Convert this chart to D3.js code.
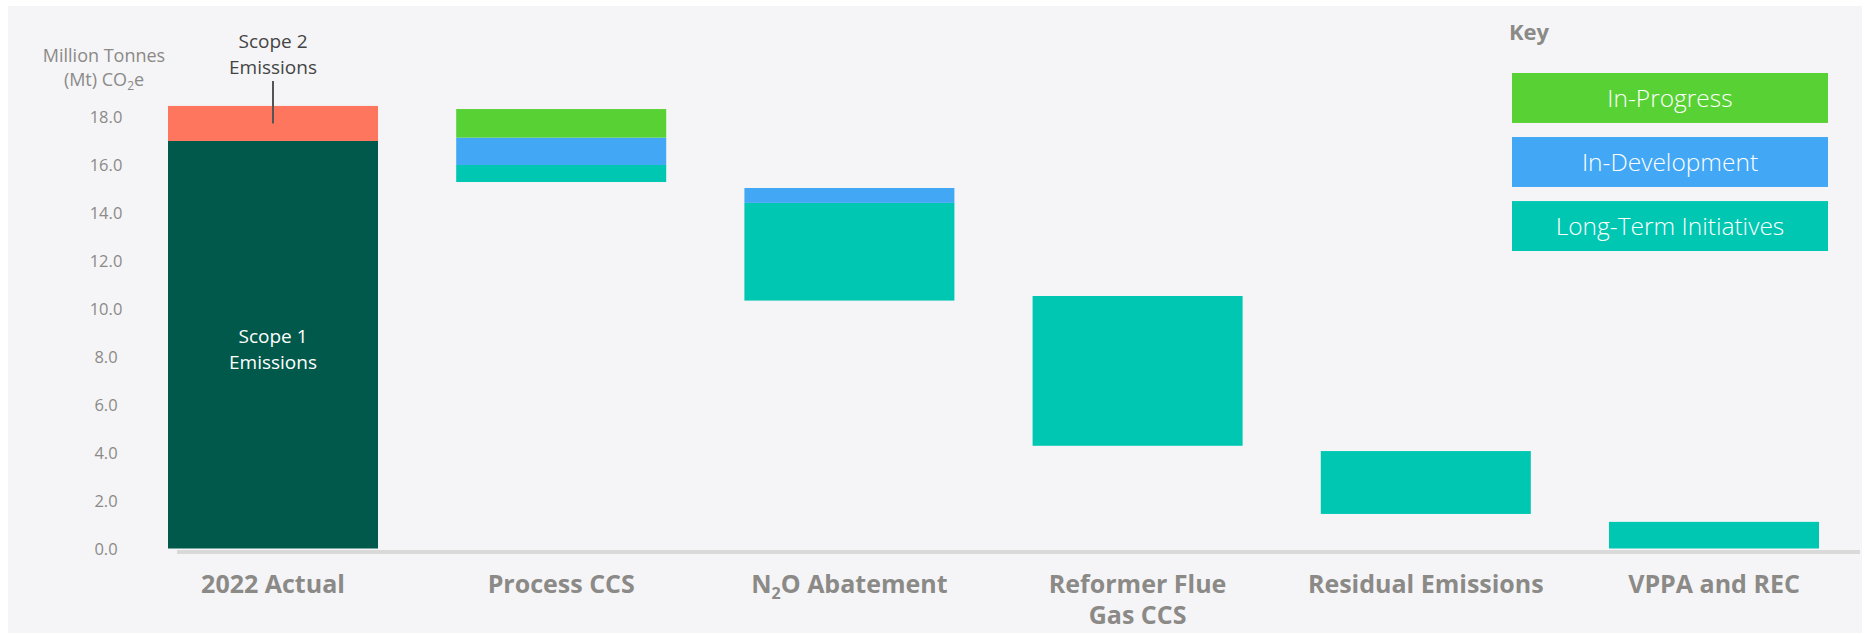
<!DOCTYPE html>
<html>
<head>
<meta charset="utf-8">
<script src="https://cdn.jsdelivr.net/npm/d3@7"></script>
<style>
  html, body { margin: 0; padding: 0; background: #ffffff; }
  svg { display: block; font-family: "Open Sans", sans-serif; }
</style>
</head>
<body>
<div id="chart"></div>
<script>
// values (Mt CO2e)
const categories = ['2022 Actual', 'Process CCS', 'N2O Abatement', 'Reformer Flue Gas CCS', 'Residual Emissions', 'VPPA and REC'];
const base = [0, 15.27, 10.33, 4.28, 1.44, 0];
const scope1 = [16.98, 0, 0, 0, 0, 0];
const scope2 = [1.46, 0, 0, 0, 0, 0];
const longTerm = [0, 0.71, 4.07, 6.24, 2.62, 1.11];
const inDevelopment = [0, 1.14, 0.62, 0, 0, 0];
const inProgress = [0, 1.19, 0, 0, 0, 0];
const yTicks = [0, 2, 4, 6, 8, 10, 12, 14, 16, 18];
const legendItems = ['In-Progress', 'In-Development', 'Long-Term Initiatives'];
const legendKeys = ['inProgress', 'inDevelopment', 'longTerm'];

const width = 1865;
const height = 635;

const colors = {
  scope1: '#00594a',
  scope2: '#ff765e',
  longTerm: '#00c7b2',
  inDevelopment: '#42a8f5',
  inProgress: '#57d134',
};
const grey = '#8b8a87';

const rows = categories.map((c, i) => ({
  category: c,
  base: base[i],
  scope1: scope1[i],
  scope2: scope2[i],
  longTerm: longTerm[i],
  inDevelopment: inDevelopment[i],
  inProgress: inProgress[i],
}));

const keys = ['base', 'scope1', 'scope2', 'longTerm', 'inDevelopment', 'inProgress'];
const series = d3.stack().keys(keys)(rows);

const x = d3.scaleBand()
  .domain(categories)
  .range([168, 1819])
  .paddingInner(0.2713)
  .paddingOuter(0);

const y = d3.scaleLinear()
  .domain([0, 20])
  .range([548.5, 68.5]);

const svg = d3.select('#chart')
  .append('svg')
  .attr('width', width)
  .attr('height', height);

// panel background
svg.append('rect')
  .attr('x', 8)
  .attr('y', 6)
  .attr('width', 1854)
  .attr('height', 627)
  .attr('fill', '#f5f5f7');

// y axis title
const yTitle = svg.append('text')
  .attr('text-anchor', 'middle')
  .attr('fill', grey)
  .style('font-size', '18px');
yTitle.append('tspan')
  .attr('x', 104)
  .attr('y', 62)
  .text('Million Tonnes');
const line2 = yTitle.append('tspan')
  .attr('x', 104)
  .attr('y', 86);
line2.append('tspan').text('(Mt) CO');
line2.append('tspan').attr('dy', 4).style('font-size', '12px').text('2');
line2.append('tspan').attr('dy', -4).text('e');

// y tick labels
const yAxis = svg.append('g')
  .attr('transform', 'translate(124,0)')
  .call(d3.axisLeft(y).tickValues(yTicks).tickFormat(d3.format('.1f')).tickSize(0).tickPadding(0));
yAxis.select('.domain').remove();
yAxis.selectAll('text')
  .attr('x', -18)
  .attr('text-anchor', 'middle')
  .attr('dy', '0.35em')
  .attr('fill', grey)
  .style('font-family', '"Open Sans", sans-serif')
  .style('font-size', '16.5px');

// bars
const layers = svg.append('g')
  .selectAll('g')
  .data(series.filter(s => s.key !== 'base'))
  .enter()
  .append('g')
  .attr('fill', s => colors[s.key]);

layers.selectAll('rect')
  .data(s => s.filter(d => d[1] - d[0] > 0))
  .enter()
  .append('rect')
  .attr('x', d => x(d.data.category))
  .attr('y', d => y(d[1]))
  .attr('width', x.bandwidth())
  .attr('height', d => y(d[0]) - y(d[1]));

// baseline
svg.append('line')
  .attr('x1', 177)
  .attr('x2', 1860)
  .attr('y1', y(0) + 3.5)
  .attr('y2', y(0) + 3.5)
  .attr('stroke', '#d9d9d9')
  .attr('stroke-width', 4);

// category labels
const catLabel = svg.append('g')
  .selectAll('text')
  .data(categories)
  .enter()
  .append('text')
  .attr('text-anchor', 'middle')
  .attr('fill', grey)
  .style('font-size', '25px')
  .style('font-weight', 700);

catLabel.each(function(c) {
  const t = d3.select(this);
  const cx = x(c) + x.bandwidth() / 2;
  if (c === 'N2O Abatement') {
    const s = t.append('tspan').attr('x', cx).attr('y', 593);
    s.append('tspan').text('N');
    s.append('tspan').attr('dy', 6).style('font-size', '16px').text('2');
    s.append('tspan').attr('dy', -6).text('O Abatement');
  } else if (c === 'Reformer Flue Gas CCS') {
    t.append('tspan').attr('x', cx).attr('y', 593).text('Reformer Flue');
    t.append('tspan').attr('x', cx).attr('y', 624).text('Gas CCS');
  } else {
    t.append('tspan').attr('x', cx).attr('y', 593).text(c);
  }
});

// in-bar / callout annotations for 2022
const firstX = x(categories[0]) + x.bandwidth() / 2;
svg.append('text')
  .attr('text-anchor', 'middle')
  .attr('fill', '#ffffff')
  .style('font-size', '19px')
  .selectAll('tspan')
  .data(['Scope 1', 'Emissions'])
  .enter()
  .append('tspan')
  .attr('x', firstX)
  .attr('y', (d, i) => 343 + i * 26)
  .text(d => d);

svg.append('line')
  .attr('x1', firstX)
  .attr('x2', firstX)
  .attr('y1', y(scope1[0] + scope2[0] / 2))
  .attr('y2', 81)
  .attr('stroke', '#555555')
  .attr('stroke-width', 2);

svg.append('text')
  .attr('text-anchor', 'middle')
  .attr('fill', '#444444')
  .style('font-size', '19px')
  .selectAll('tspan')
  .data(['Scope 2', 'Emissions'])
  .enter()
  .append('tspan')
  .attr('x', firstX)
  .attr('y', (d, i) => 48 + i * 26)
  .text(d => d);

// key
svg.append('text')
  .attr('x', 1509)
  .attr('y', 40)
  .attr('fill', grey)
  .style('font-size', '22px')
  .style('font-weight', 700)
  .text('Key');

const legendY = d3.scaleBand()
  .domain(legendItems)
  .range([73, 251])
  .paddingInner(0.22);

const legend = svg.append('g')
  .selectAll('g')
  .data(legendItems)
  .enter()
  .append('g')
  .attr('transform', d => `translate(1512, ${legendY(d)})`);

legend.append('rect')
  .attr('width', 316)
  .attr('height', legendY.bandwidth())
  .attr('fill', (d, i) => colors[legendKeys[i]]);

legend.append('text')
  .attr('x', 158)
  .attr('y', legendY.bandwidth() / 2)
  .attr('dy', '0.35em')
  .attr('text-anchor', 'middle')
  .attr('fill', '#ffffff')
  .style('font-size', '24.5px')
  .style('font-weight', 300)
  .text(d => d);
</script>
</body>
</html>
